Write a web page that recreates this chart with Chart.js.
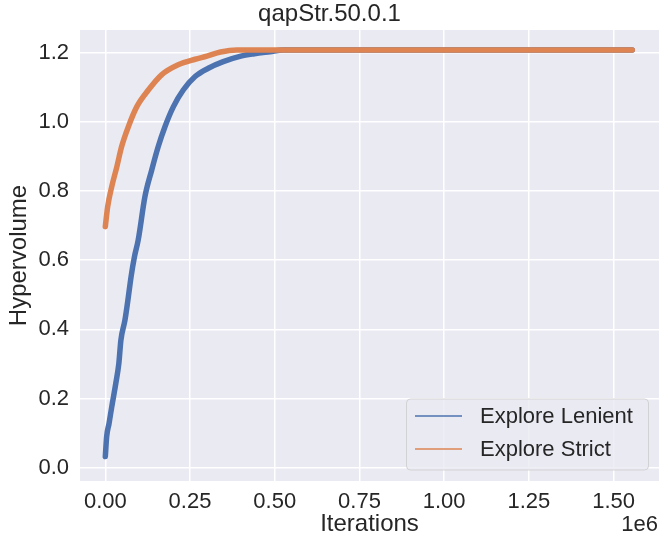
<!DOCTYPE html>
<html>
<head>
<meta charset="utf-8">
<script src="https://cdn.jsdelivr.net/npm/chart.js@4"></script>
<style>
html,body{margin:0;padding:0;background:#fff;}
canvas{display:block;}
</style>
</head>
<body>
<canvas id="c" width="659" height="537"></canvas>
<script>
// ---- data ----
const chartTitle = "qapStr.50.0.1";
const seriesNames = ["Explore Lenient", "Explore Strict"];
const lenientX = [0, 4000, 11000, 19000, 31000, 40000, 46000, 58000, 68000, 76000, 86000, 97000, 117000, 137000, 156000, 176000, 201000, 230000, 265000, 304000, 348000, 400000, 440000, 486000, 525000, 1555000];
const lenientY = [0.032, 0.090, 0.128, 0.176, 0.244, 0.302, 0.369, 0.427, 0.494, 0.552, 0.610, 0.658, 0.784, 0.861, 0.928, 0.986, 1.044, 1.092, 1.131, 1.155, 1.174, 1.190, 1.197, 1.203, 1.208, 1.208];
const strictX = [0, 7000, 19000, 34000, 48000, 68000, 93000, 127000, 166000, 215000, 265000, 300000, 340000, 388000, 1555000];
const strictY = [0.697, 0.755, 0.813, 0.870, 0.928, 0.986, 1.044, 1.092, 1.136, 1.165, 1.181, 1.190, 1.202, 1.208, 1.208];
const xTicks = [0, 250000, 500000, 750000, 1000000, 1250000, 1500000];
const yTicks = [0.0, 0.2, 0.4, 0.6, 0.8, 1.0, 1.2];
const xLabel = "Iterations";
const yLabel = "Hypervolume";
const offsetLabel = "1e6";

const FONT = "'Liberation Sans', Arial, sans-serif";
const TEXT = "#262626";
const colors = ["#4C72B0", "#DD8452"];

const zip = (xs, ys) => xs.map((x, i) => ({x: x, y: ys[i]}));

const bgPlugin = {
  id: 'bg',
  beforeDraw(chart) {
    const {ctx, chartArea: a} = chart;
    ctx.save();
    ctx.fillStyle = '#EAEAF2';
    ctx.fillRect(a.left, a.top, a.right - a.left, a.bottom - a.top);
    ctx.restore();
  }
};

const overlayPlugin = {
  id: 'overlay',
  afterDraw(chart) {
    const ctx = chart.ctx;
    ctx.save();
    // offset label
    ctx.font = "22px " + FONT;
    ctx.fillStyle = TEXT;
    ctx.textAlign = 'right';
    ctx.textBaseline = 'alphabetic';
    ctx.fillText(offsetLabel, 658, 531);
    // legend
    const lx = 406.5, ly = 399, lw = 242, lh = 71, r = 4;
    ctx.beginPath();
    ctx.moveTo(lx + r, ly);
    ctx.lineTo(lx + lw - r, ly);
    ctx.quadraticCurveTo(lx + lw, ly, lx + lw, ly + r);
    ctx.lineTo(lx + lw, ly + lh - r);
    ctx.quadraticCurveTo(lx + lw, ly + lh, lx + lw - r, ly + lh);
    ctx.lineTo(lx + r, ly + lh);
    ctx.quadraticCurveTo(lx, ly + lh, lx, ly + lh - r);
    ctx.lineTo(lx, ly + r);
    ctx.quadraticCurveTo(lx, ly, lx + r, ly);
    ctx.closePath();
    ctx.fillStyle = 'rgba(234,234,242,0.8)';
    ctx.fill();
    ctx.strokeStyle = 'rgba(204,204,204,0.8)';
    ctx.lineWidth = 1;
    ctx.stroke();
    chart.data.datasets.forEach((ds, i) => {
      const yy = 416 + i * 33;
      ctx.beginPath();
      ctx.moveTo(415, yy);
      ctx.lineTo(462, yy);
      ctx.strokeStyle = ds.borderColor;
      ctx.lineWidth = 1.5;
      ctx.stroke();
      ctx.fillStyle = TEXT;
      ctx.textAlign = 'left';
      ctx.textBaseline = 'middle';
      ctx.font = "22px " + FONT;
      ctx.fillText(ds.label, 480, yy + 1);
    });
    ctx.restore();
  }
};

new Chart(document.getElementById('c'), {
  type: 'line',
  data: {
    datasets: [
      {label: seriesNames[0], data: zip(lenientX, lenientY), borderColor: colors[0], backgroundColor: colors[0], order: 1},
      {label: seriesNames[1], data: zip(strictX, strictY), borderColor: colors[1], backgroundColor: colors[1], order: 0}
    ]
  },
  options: {
    responsive: false,
    animation: false,
    devicePixelRatio: 1,
    layout: {padding: 0},
    elements: {
      point: {radius: 0},
      line: {borderWidth: 5.5, borderCapStyle: 'round', borderJoinStyle: 'round', cubicInterpolationMode: 'monotone', fill: false}
    },
    plugins: {
      legend: {display: false},
      tooltip: {enabled: false},
      title: {display: true, text: chartTitle, color: TEXT, font: {family: FONT, size: 24, weight: 'normal', lineHeight: 1.2}, padding: {top: 0, bottom: 1.2}}
    },
    scales: {
      x: {
        type: 'linear', min: -74700, max: 1634000,
        grid: {color: '#FFFFFF', lineWidth: 1.5, drawTicks: false},
        border: {display: false},
        afterBuildTicks: s => { s.ticks = xTicks.map(v => ({value: v})); },
        afterFit: s => { s.height = 56; },
        ticks: {color: TEXT, font: {family: FONT, size: 22}, padding: 8, maxRotation: 0, autoSkip: false,
                callback: v => (v / 1e6).toFixed(2)},
        title: {display: true, text: xLabel, color: TEXT, font: {family: FONT, size: 24, lineHeight: 1}, padding: {top: 0, bottom: 1}}
      },
      y: {
        type: 'linear', min: -0.0385, max: 1.2656,
        grid: {color: '#FFFFFF', lineWidth: 1.5, drawTicks: false},
        border: {display: false},
        afterBuildTicks: s => { s.ticks = yTicks.map(v => ({value: v})); },
        afterFit: s => { s.width = 80; },
        ticks: {color: TEXT, font: {family: FONT, size: 22}, padding: 11, autoSkip: false,
                callback: v => v.toFixed(1)},
        title: {display: true, text: yLabel, color: TEXT, font: {family: FONT, size: 24}, padding: {top: 5, bottom: 0}}
      }
    }
  },
  plugins: [bgPlugin, overlayPlugin]
});
</script>
</body>
</html>
